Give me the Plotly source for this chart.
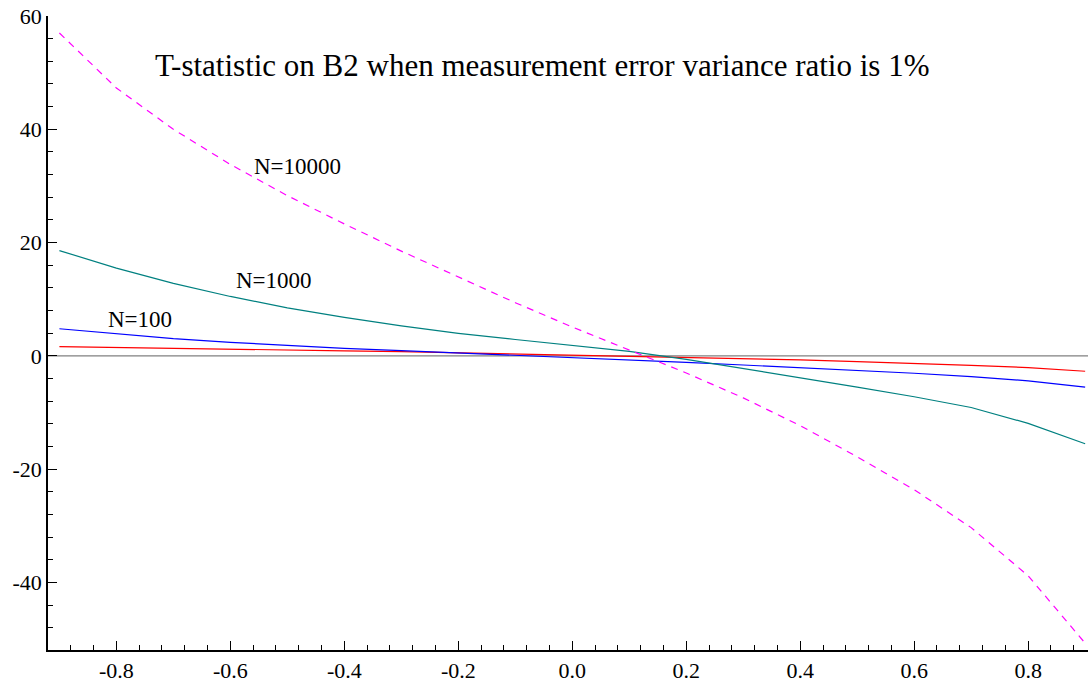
import plotly.graph_objects as go

x_vals = [-0.9, -0.8, -0.7, -0.6, -0.5, -0.4, -0.3, -0.2, -0.1, 0.0,
          0.1, 0.2, 0.3, 0.4, 0.5, 0.6, 0.7, 0.8, 0.9]

t_n10 = [1.64, 1.47, 1.32, 1.19, 1.06, 0.90, 0.75, 0.55, 0.38, 0.20,
         0.00, -0.20, -0.45, -0.70, -1.00, -1.30, -1.65, -2.05, -2.70]
t_n100 = [4.8, 3.9, 3.05, 2.4, 1.85, 1.35, 0.95, 0.55, 0.15, -0.3,
          -0.7, -1.15, -1.6, -2.05, -2.6, -3.05, -3.65, -4.4, -5.5]
t_n1000 = [18.6, 15.5, 12.8, 10.5, 8.5, 6.8, 5.3, 4.0, 2.9, 1.9,
           0.8, -0.6, -2.2, -3.8, -5.5, -7.2, -9.1, -11.9, -15.5]
t_n10000 = [57.0, 47.3, 40.0, 33.8, 28.3, 23.3, 18.5, 13.9, 9.4, 5.1,
            1.0, -3.0, -7.4, -12.3, -17.8, -23.6, -30.3, -38.8, -50.7]

title_text = "T-statistic on B2 when measurement error variance ratio is 1%"
labels = [("N=10000", -0.482, 33.4), ("N=1000", -0.523, 13.4), ("N=100", -0.759, 6.5)]

FONT = "Liberation Serif, Times New Roman, serif"

fig = go.Figure()
fig.add_trace(go.Scatter(x=[-0.92, 0.905], y=[0, 0], mode="lines",
                         line=dict(color="#808080", width=1.2), hoverinfo="skip"))
fig.add_trace(go.Scatter(x=x_vals, y=t_n10, mode="lines", line=dict(color="#ff0000", width=1.2)))
fig.add_trace(go.Scatter(x=x_vals, y=t_n100, mode="lines", line=dict(color="#0000ff", width=1.2)))
fig.add_trace(go.Scatter(x=x_vals, y=t_n1000, mode="lines", line=dict(color="#008080", width=1.2)))
fig.add_trace(go.Scatter(x=x_vals, y=t_n10000, mode="lines",
                         line=dict(color="#ff00ff", width=1.2, dash="7px,6px")))

for txt, ax, ay in labels:
    fig.add_annotation(x=ax, y=ay, text=txt, showarrow=False,
                       font=dict(family=FONT, size=23, color="black"))

fig.add_annotation(x=0.475, y=0.953, xref="paper", yref="paper", text=title_text,
                   showarrow=False, font=dict(family=FONT, size=31, color="black"))

fig.update_layout(
    width=1089, height=683,
    margin=dict(l=48, r=1, t=16, b=33),
    plot_bgcolor="white", paper_bgcolor="white",
    showlegend=False,
    font=dict(family=FONT, size=22, color="black"),
)
fig.update_xaxes(range=[-0.92, 0.905], showgrid=False, zeroline=False,
                 showline=True, linecolor="black", linewidth=1.5,
                 ticks="inside", ticklen=9, tickcolor="black", tickwidth=1,
                 tickmode="array", tickvals=[-0.8, -0.6, -0.4, -0.2, 0.0, 0.2, 0.4, 0.6, 0.8],
                 ticktext=["-0.8", "-0.6", "-0.4", "-0.2", "0.0", "0.2", "0.4", "0.6", "0.8"],
                 minor=dict(ticks="inside", ticklen=5, tickcolor="black", dtick=0.04, tick0=0, showgrid=False),
                 tickfont=dict(family=FONT, size=22, color="black"), automargin=False)
fig.update_yaxes(range=[-51.9, 60], showgrid=False, zeroline=False,
                 showline=True, linecolor="black", linewidth=1.5,
                 ticks="inside", ticklen=9, tickcolor="black", tickwidth=1,
                 tickmode="array", tickvals=[-40, -20, 0, 20, 40, 60],
                 ticktext=["-40", "-20", "0", "20", "40", "60"],
                 minor=dict(ticks="inside", ticklen=5, tickcolor="black", dtick=4, tick0=0, showgrid=False),
                 tickfont=dict(family=FONT, size=22, color="black"), automargin=False)

fig.write_html("out.html", config={"displayModeBar": False},
               post_script="document.body.style.margin='0';document.body.style.overflow='hidden';")
